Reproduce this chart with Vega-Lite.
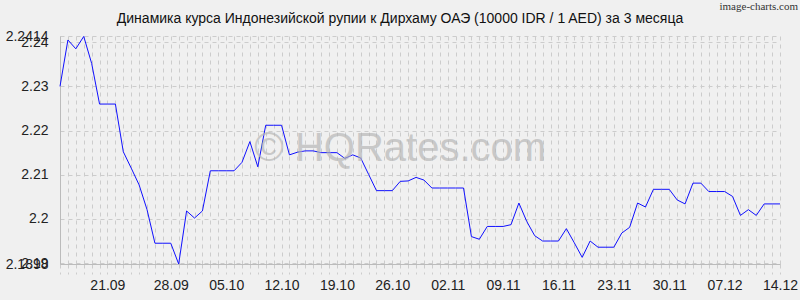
{
  "$schema": "https://vega.github.io/schema/vega-lite/v6.json",
  "width": 720,
  "height": 228,
  "autosize": {"type": "none"},
  "padding": {"left": 60, "top": 36, "right": 20, "bottom": 36},
  "background": "#f0f0f0",
  "config": {
    "view": {"stroke": null},
    "font": "Liberation Sans"
  },
  "title": {
    "text": "Динамика курса Индонезийской рупии к Дирхаму ОАЭ (10000 IDR / 1 AED) за 3 месяца",
    "font": "Liberation Sans",
    "fontSize": 14,
    "fontWeight": "normal",
    "color": "#111111",
    "anchor": "middle",
    "frame": "group",
    "dx": -20,
    "offset": -39,
    "baseline": "bottom"
  },
  "datasets": {
    "rates": [
      {"date": "2023-09-14T00:00:00", "value": 2.2300},
      {"date": "2023-09-15T00:00:00", "value": 2.2405},
      {"date": "2023-09-16T00:00:00", "value": 2.2385},
      {"date": "2023-09-17T00:00:00", "value": 2.2413},
      {"date": "2023-09-18T00:00:00", "value": 2.2352},
      {"date": "2023-09-19T00:00:00", "value": 2.2260},
      {"date": "2023-09-20T00:00:00", "value": 2.2260},
      {"date": "2023-09-21T00:00:00", "value": 2.2260},
      {"date": "2023-09-22T00:00:00", "value": 2.2152},
      {"date": "2023-09-23T00:00:00", "value": 2.2115},
      {"date": "2023-09-24T00:00:00", "value": 2.2077},
      {"date": "2023-09-25T00:00:00", "value": 2.2021},
      {"date": "2023-09-26T00:00:00", "value": 2.1945},
      {"date": "2023-09-27T00:00:00", "value": 2.1945},
      {"date": "2023-09-28T00:00:00", "value": 2.1945},
      {"date": "2023-09-29T00:00:00", "value": 2.1898},
      {"date": "2023-09-30T00:00:00", "value": 2.2018},
      {"date": "2023-10-01T00:00:00", "value": 2.2002},
      {"date": "2023-10-02T00:00:00", "value": 2.2018},
      {"date": "2023-10-03T00:00:00", "value": 2.2109},
      {"date": "2023-10-04T00:00:00", "value": 2.2109},
      {"date": "2023-10-05T00:00:00", "value": 2.2109},
      {"date": "2023-10-06T00:00:00", "value": 2.2109},
      {"date": "2023-10-07T00:00:00", "value": 2.2128},
      {"date": "2023-10-08T00:00:00", "value": 2.2175},
      {"date": "2023-10-09T00:00:00", "value": 2.2118},
      {"date": "2023-10-10T00:00:00", "value": 2.2212},
      {"date": "2023-10-11T00:00:00", "value": 2.2212},
      {"date": "2023-10-12T00:00:00", "value": 2.2212},
      {"date": "2023-10-13T00:00:00", "value": 2.2145},
      {"date": "2023-10-14T00:00:00", "value": 2.2151},
      {"date": "2023-10-15T00:00:00", "value": 2.2154},
      {"date": "2023-10-16T00:00:00", "value": 2.2154},
      {"date": "2023-10-17T00:00:00", "value": 2.2150},
      {"date": "2023-10-18T00:00:00", "value": 2.2150},
      {"date": "2023-10-19T00:00:00", "value": 2.2150},
      {"date": "2023-10-20T00:00:00", "value": 2.2137},
      {"date": "2023-10-21T00:00:00", "value": 2.2145},
      {"date": "2023-10-22T00:00:00", "value": 2.2138},
      {"date": "2023-10-23T00:00:00", "value": 2.2101},
      {"date": "2023-10-24T00:00:00", "value": 2.2064},
      {"date": "2023-10-25T00:00:00", "value": 2.2064},
      {"date": "2023-10-26T00:00:00", "value": 2.2064},
      {"date": "2023-10-27T00:00:00", "value": 2.2085},
      {"date": "2023-10-28T00:00:00", "value": 2.2086},
      {"date": "2023-10-29T00:00:00", "value": 2.2094},
      {"date": "2023-10-30T00:00:00", "value": 2.2088},
      {"date": "2023-10-31T00:00:00", "value": 2.2070},
      {"date": "2023-11-01T00:00:00", "value": 2.2070},
      {"date": "2023-11-02T00:00:00", "value": 2.2070},
      {"date": "2023-11-03T00:00:00", "value": 2.2070},
      {"date": "2023-11-04T00:00:00", "value": 2.2070},
      {"date": "2023-11-05T00:00:00", "value": 2.1960},
      {"date": "2023-11-06T00:00:00", "value": 2.1954},
      {"date": "2023-11-07T00:00:00", "value": 2.1983},
      {"date": "2023-11-08T00:00:00", "value": 2.1983},
      {"date": "2023-11-09T00:00:00", "value": 2.1983},
      {"date": "2023-11-10T00:00:00", "value": 2.1987},
      {"date": "2023-11-11T00:00:00", "value": 2.2036},
      {"date": "2023-11-12T00:00:00", "value": 2.1994},
      {"date": "2023-11-13T00:00:00", "value": 2.1962},
      {"date": "2023-11-14T00:00:00", "value": 2.1950},
      {"date": "2023-11-15T00:00:00", "value": 2.1950},
      {"date": "2023-11-16T00:00:00", "value": 2.1950},
      {"date": "2023-11-17T00:00:00", "value": 2.1978},
      {"date": "2023-11-18T00:00:00", "value": 2.1946},
      {"date": "2023-11-19T00:00:00", "value": 2.1913},
      {"date": "2023-11-20T00:00:00", "value": 2.1950},
      {"date": "2023-11-21T00:00:00", "value": 2.1936},
      {"date": "2023-11-22T00:00:00", "value": 2.1936},
      {"date": "2023-11-23T00:00:00", "value": 2.1936},
      {"date": "2023-11-24T00:00:00", "value": 2.1968},
      {"date": "2023-11-25T00:00:00", "value": 2.1981},
      {"date": "2023-11-26T00:00:00", "value": 2.2036},
      {"date": "2023-11-27T00:00:00", "value": 2.2027},
      {"date": "2023-11-28T00:00:00", "value": 2.2067},
      {"date": "2023-11-29T00:00:00", "value": 2.2067},
      {"date": "2023-11-30T00:00:00", "value": 2.2067},
      {"date": "2023-12-01T00:00:00", "value": 2.2043},
      {"date": "2023-12-02T00:00:00", "value": 2.2034},
      {"date": "2023-12-03T00:00:00", "value": 2.2081},
      {"date": "2023-12-04T00:00:00", "value": 2.2081},
      {"date": "2023-12-05T00:00:00", "value": 2.2062},
      {"date": "2023-12-06T00:00:00", "value": 2.2062},
      {"date": "2023-12-07T00:00:00", "value": 2.2062},
      {"date": "2023-12-08T00:00:00", "value": 2.2051},
      {"date": "2023-12-09T00:00:00", "value": 2.2008},
      {"date": "2023-12-10T00:00:00", "value": 2.2021},
      {"date": "2023-12-11T00:00:00", "value": 2.2008},
      {"date": "2023-12-12T00:00:00", "value": 2.2034},
      {"date": "2023-12-13T00:00:00", "value": 2.2034},
      {"date": "2023-12-14T00:00:00", "value": 2.2034}
    ],
    "marks": [
      {"label": "© HQRates.com", "date": "2023-10-27T00:00:00", "value": 2.2130}
    ],
    "credit": [
      {"label": "image-charts.com", "date": "2023-12-14T00:00:00", "value": 2.2414}
    ]
  },
  "encoding": {
    "x": {
      "field": "date", "type": "temporal",
      "scale": {"domain": ["2023-09-14T00:00:00", "2023-12-14T00:00:00"], "nice": false},
      "axis": {
        "title": null,
        "tickCount": {"interval": "day", "step": 1},
        "labelExpr": "(day(datum.value) == 4 && datum.value > datetime(2023, 8, 15)) ? timeFormat(datum.value, '%d.%m') : ''",
        "labelOffset": {"condition": {"test": "month(datum.value) == 8 && date(datum.value) == 21", "value": -8}, "value": 0},
        "labelOverlap": false,
        "labelFlush": false,
        "labelBound": false,
        "labelFont": "Liberation Sans",
        "labelFontSize": 14,
        "labelColor": "#222222",
        "labelPadding": 4,
        "ticks": true,
        "tickSize": 10,
        "tickColor": "#cccccc",
        "tickDash": [4, 4],
        "domain": true,
        "domainColor": "#bbbbbb",
        "domainWidth": 1,
        "grid": true,
        "gridColor": "#cccccc",
        "gridDash": [4, 4],
        "gridWidth": 1
      }
    },
    "y": {
      "field": "value", "type": "quantitative",
      "scale": {"domain": [2.1898, 2.2414], "nice": false, "zero": false},
      "axis": {
        "title": null,
        "values": [2.1898, 2.19, 2.2, 2.21, 2.22, 2.23, 2.24, 2.2414],
        "format": ".5~r",
        "labelFont": "Liberation Sans",
        "labelFontSize": 14,
        "labelColor": "#222222",
        "labelPadding": 12,
        "labelOverlap": false,
        "labelFlush": false,
        "labelBound": false,
        "ticks": false,
        "domain": true,
        "domainColor": "#bbbbbb",
        "domainWidth": 1,
        "grid": true,
        "gridColor": "#cccccc",
        "gridDash": [4, 4],
        "gridWidth": 1
      }
    }
  },
  "layer": [
    {
      "data": {"name": "rates"},
      "mark": {"type": "line", "color": "#1010ff", "strokeWidth": 1, "clip": false, "zindex": 2}
    },
    {
      "data": {"name": "marks"},
      "mark": {"type": "text", "font": "Liberation Sans", "fontSize": 40, "fill": "#b4b4b4", "opacity": 0.65, "align": "center", "baseline": "alphabetic", "clip": false, "zindex": 1},
      "encoding": {
        "text": {"field": "label"}
      }
    },
    {
      "data": {"name": "credit"},
      "mark": {"type": "text", "font": "Liberation Sans Narrow", "fontSize": 11, "fill": "#333333", "align": "right", "baseline": "alphabetic", "dx": 18, "dy": -26, "clip": false},
      "encoding": {
        "text": {"field": "label"}
      }
    }
  ]
}
